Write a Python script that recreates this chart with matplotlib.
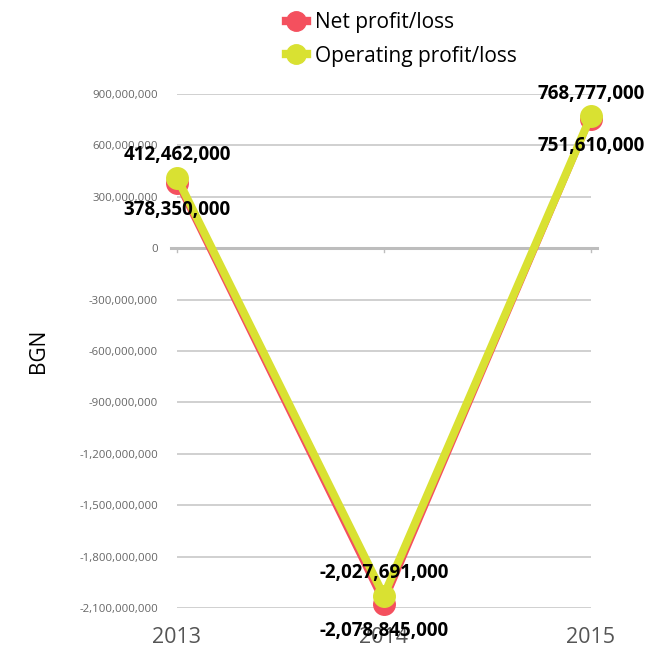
import matplotlib
matplotlib.use("Agg")
import matplotlib.pyplot as plt
from matplotlib.lines import Line2D
from matplotlib.ticker import FuncFormatter

years = ["2013", "2014", "2015"]
net_profit = [378350000, -2078845000, 751610000]
operating_profit = [412462000, -2027691000, 768777000]
y_ticks = [900000000, 600000000, 300000000, 0, -300000000, -600000000,
           -900000000, -1200000000, -1500000000, -1800000000, -2100000000]

RED = "#F4505E"
YEL = "#D9E132"

plt.rcParams["font.family"] = ["Open Sans", "DejaVu Sans"]

fig = plt.figure(figsize=(6.6, 6.5), dpi=100)
ax = fig.add_axes([0.268, 0.0646, 0.627, 0.7908])

x = list(range(len(years)))
ax.set_xlim(0, len(years) - 1)
ax.set_ylim(min(y_ticks), max(y_ticks))

ax.set_yticks(y_ticks)
ax.yaxis.set_major_formatter(FuncFormatter(lambda v, p: f"{int(v):,}"))
ax.tick_params(axis="y", length=0, pad=13.5, labelsize=8.2, labelcolor="#666666")
ax.grid(axis="y", color="#C8C8C8", linewidth=1.2)
ax.set_axisbelow(True)
for s in ax.spines.values():
    s.set_visible(False)

ax.set_xticks(x)
ax.set_xticklabels([])
ax.tick_params(axis="x", length=0)
ax.axhline(0, xmin=-0.015, xmax=1.015, color="#BDBDBD", linewidth=2.2, clip_on=False, zorder=1)
for xi, yr in zip(x, years):
    ax.plot([xi, xi], [0, -25000000], color="#BDBDBD", linewidth=1, clip_on=False, zorder=1)
    ax.text(xi, -0.058, yr, transform=ax.get_xaxis_transform(), ha="center", va="center",
            fontsize=15.5, color="#555555")

ax.plot(x, net_profit, color=RED, linewidth=3.6, marker="o", markersize=15.5,
        clip_on=False, zorder=3)
ax.plot(x, operating_profit, color=YEL, linewidth=5.8, marker="o", markersize=15.5,
        clip_on=False, zorder=4)

for xi, v in zip(x, operating_profit):
    ax.annotate(f"{v:,}", (xi, v), xytext=(0, 16), textcoords="offset points",
                ha="center", va="center", fontsize=13.5, fontweight="bold", color="black", zorder=6)
for xi, v in zip(x, net_profit):
    ax.annotate(f"{v:,}", (xi, v), xytext=(0, -19), textcoords="offset points",
                ha="center", va="center", fontsize=13.5, fontweight="bold", color="black", zorder=6)

ax.set_ylabel("BGN", fontsize=15, color="black", labelpad=22)

handles = [
    Line2D([], [], color=RED, linewidth=6, marker="o", markersize=14),
    Line2D([], [], color=YEL, linewidth=6, marker="o", markersize=14),
]
fig.legend(handles, ["Net profit/loss", "Operating profit/loss"], loc="upper left",
           bbox_to_anchor=(0.405, 1.01), frameon=False, fontsize=15,
           handlelength=1.0, handletextpad=0.4, labelspacing=0.6)

fig.savefig("out.png", dpi=100)
